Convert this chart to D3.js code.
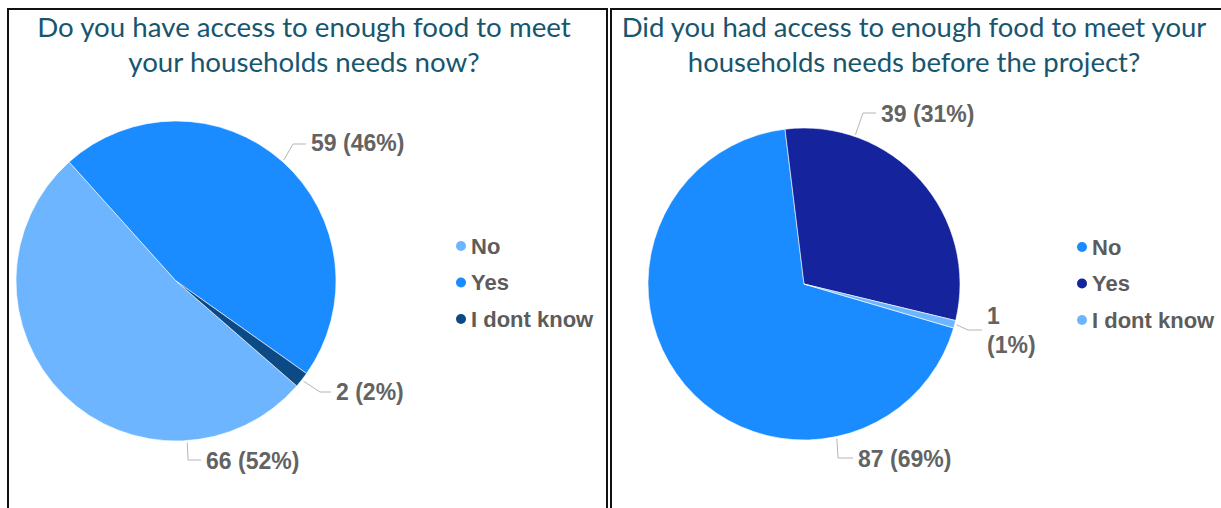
<!DOCTYPE html>
<html>
<head>
<meta charset="utf-8">
<script src="https://cdn.jsdelivr.net/npm/d3@7"></script>
<style>
  html, body { margin: 0; padding: 0; background: #ffffff; }
  svg { display: block; }
</style>
</head>
<body>
<svg id="chart" width="1221" height="508"></svg>
<script>
// Survey answers, shared category list
const categories = ["No", "Yes", "I dont know"];

// Current access to food
const nowTitle = ["Do you have access to enough food to meet", "your households needs now?"];
const nowValues = [66, 59, 2];
const nowPercents = ["52%", "46%", "2%"];
const nowColors = ["#6db6ff", "#1a8cff", "#0c4a86"];

// Access to food before the project
const beforeTitle = ["Did you had access to enough food to meet your", "households needs before the project?"];
const beforeValues = [87, 39, 1];
const beforePercents = ["69%", "31%", "1%"];
const beforeColors = ["#1a8cff", "#15239c", "#6db6ff"];

const svg = d3.select("#chart");
const rad = d => d * Math.PI / 180;
const labelFont = "'Liberation Sans', Arial, sans-serif";

// Panel frames
const frame = svg.append("g").attr("fill", "none").attr("stroke", "#111").attr("stroke-width", 2);
frame.append("path").attr("d", "M8,508 V9 H607 V508");
frame.append("path").attr("d", "M611,508 V9 H1221");

function drawPanel(cfg) {
  const g = svg.append("g");

  // Title
  const title = g.append("text")
    .attr("text-anchor", "middle")
    .attr("fill", "#17566e")
    .style("font-family", "Lato, 'Open Sans', sans-serif")
    .style("font-size", cfg.titleSize + "px");
  cfg.title.forEach((line, i) => {
    title.append("tspan").attr("x", cfg.titleX).attr("y", 37 + i * 35).text(line);
  });

  // Pie slices, clockwise from the given start angle
  const pie = d3.pie().sort(null).value(d => d.value)
    .startAngle(rad(cfg.start)).endAngle(rad(cfg.start + 360));
  const data = categories.map((c, i) => ({
    name: c, value: cfg.values[i], pct: cfg.percents[i], color: cfg.colors[i]
  }));
  const arcs = pie(data);
  const arc = d3.arc().innerRadius(0).outerRadius(cfg.r);
  const pg = g.append("g").attr("transform", `translate(${cfg.cx},${cfg.cy})`);
  pg.selectAll("path").data(arcs).join("path")
    .attr("d", arc)
    .attr("fill", d => d.data.color)
    .attr("stroke", "#ffffff")
    .attr("stroke-width", 0.6);

  // Leader lines and value labels
  const lg = g.append("g");
  cfg.labels.forEach((lab, i) => {
    const a = arcs[i];
    const ang = lab.angle !== undefined ? rad(lab.angle) : (a.startAngle + a.endAngle) / 2;
    const sx = cfg.cx + Math.sin(ang) * (cfg.r + 2);
    const sy = cfg.cy - Math.cos(ang) * (cfg.r + 2);
    lg.append("path")
      .attr("d", `M${sx},${sy} L${lab.ex},${lab.ey} H${lab.tx - 5}`)
      .attr("fill", "none").attr("stroke", "#b5b5b5").attr("stroke-width", 1);
    const t = lg.append("text")
      .attr("fill", "#636363")
      .style("font-family", labelFont)
      .style("font-weight", "bold")
      .style("font-size", "23px");
    const txt = `${a.data.value} (${a.data.pct})`;
    if (lab.wrap) {
      t.append("tspan").attr("x", lab.tx).attr("y", lab.ty).text(`${a.data.value}`);
      t.append("tspan").attr("x", lab.tx).attr("y", lab.ty + 29).text(`(${a.data.pct})`);
    } else {
      t.attr("x", lab.tx).attr("y", lab.ty).text(txt);
    }
  });

  // Legend
  const leg = g.append("g").attr("transform", `translate(${cfg.legX},${cfg.legY})`);
  const rows = leg.selectAll("g").data(data).join("g")
    .attr("transform", (d, i) => `translate(0,${i * 36.5})`);
  rows.append("circle").attr("cx", 0).attr("cy", 0).attr("r", 5).attr("fill", d => d.color);
  rows.append("text")
    .attr("x", 10).attr("y", 7.5)
    .attr("fill", "#5c5c5c")
    .style("font-family", labelFont)
    .style("font-weight", "bold")
    .style("font-size", "22px")
    .text(d => d.name);
}

drawPanel({
  title: nowTitle, titleX: 304, titleSize: 27.7,
  values: nowValues, percents: nowPercents, colors: nowColors,
  cx: 176, cy: 281, r: 160, start: 131,
  labels: [
    { angle: 176, ex: 188, ey: 460, tx: 206, ty: 469 },
    { ex: 293, ey: 144, tx: 311, ty: 151 },
    { ex: 320, ey: 392, tx: 336, ty: 400 }
  ],
  legX: 461, legY: 246
});

drawPanel({
  title: beforeTitle, titleX: 914, titleSize: 27.5,
  values: beforeValues, percents: beforePercents, colors: beforeColors,
  cx: 804, cy: 284, r: 156, start: 106.4,
  labels: [
    { angle: 168, ex: 838, ey: 458, tx: 858, ty: 467 },
    { angle: 19, ex: 863, ey: 113, tx: 881, ty: 122 },
    { ex: 968, ey: 330, tx: 987, ty: 324, wrap: true }
  ],
  legX: 1082, legY: 247
});
</script>
</body>
</html>
